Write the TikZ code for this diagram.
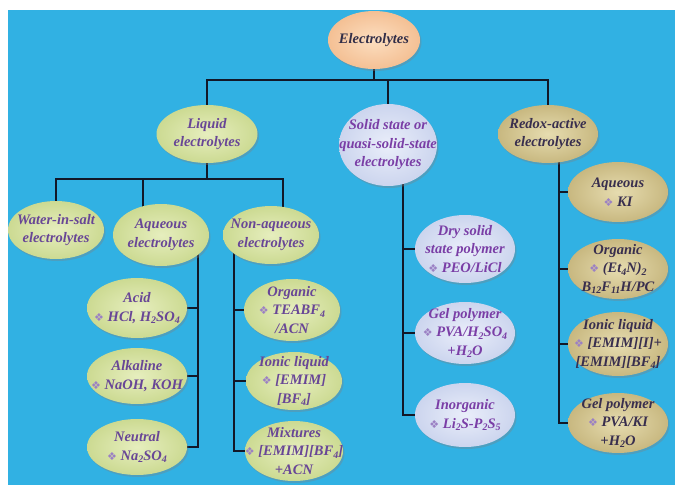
\documentclass[tikz,border=0pt]{standalone}
\usepackage{fontspec}
\setmainfont{Liberation Serif}
\newfontfamily\symfont{DejaVu Sans}
\usepackage{tikz}
\usepackage{xcolor}
\usetikzlibrary{shapes.geometric,shadows}

\pgfdeclarelayer{bg}
\pgfsetlayers{bg,main}

\definecolor{sky}{RGB}{49,177,227}
\definecolor{wirecol}{RGB}{18,24,40}
\definecolor{peachin}{RGB}{252,222,192}
\definecolor{peachout}{RGB}{244,192,148}
\definecolor{liqin}{RGB}{230,238,190}
\definecolor{liqout}{RGB}{204,218,146}
\definecolor{solin}{RGB}{234,238,250}
\definecolor{solout}{RGB}{204,213,238}
\definecolor{redin}{RGB}{230,220,176}
\definecolor{redout}{RGB}{200,184,128}
\definecolor{toptext}{RGB}{50,46,72}
\definecolor{liqtext}{RGB}{104,70,150}
\definecolor{soltext}{RGB}{122,62,166}
\definecolor{redtext}{RGB}{56,46,78}
\definecolor{bullet}{RGB}{155,128,196}

\newcommand{\dn}[1]{\raisebox{-0.35ex}{\fontsize{10}{10}\selectfont #1}}
\newcommand{\dia}{{\color{bullet}\symfont\fontsize{11}{11}\selectfont\char"2756}\ }

\begin{document}
\begin{tikzpicture}[x=1pt, y=-1pt,
  blob/.style={ellipse, inner sep=0pt,
    drop shadow={shadow xshift=1.5pt, shadow yshift=-2pt, opacity=0.35}},
  every label/.style={font=\bfseries\itshape\fontsize{14.5}{18.5}\selectfont,
    align=center, inner sep=0pt},
  topnode/.style={blob, inner color=peachin, outer color=peachout},
  liqnode/.style={blob, inner color=liqin, outer color=liqout},
  solnode/.style={blob, inner color=solin, outer color=solout},
  redoxnode/.style={blob, inner color=redin, outer color=redout},
  ltop/.style={text=toptext},
  lliq/.style={text=liqtext},
  lsol/.style={text=soltext},
  lred/.style={text=redtext},
  wire/.style={draw=wirecol, line width=1.6pt}]
  \useasboundingbox (0,0) rectangle (675,485);

  % top levels
  \node[topnode, minimum width=92pt, minimum height=58pt,
    label={[ltop]center:{Electrolytes}}] (elec) at (374,40) {};
  \node[liqnode, minimum width=101pt, minimum height=58pt,
    label={[lliq]center:{Liquid\\electrolytes}}] (liq) at (207,134) {};
  \node[solnode, minimum width=98pt, minimum height=82pt,
    label={[lsol]center:{Solid state or\\quasi-solid-state\\electrolytes}}] (sol) at (388,145) {};
  \node[redoxnode, minimum width=100pt, minimum height=58pt,
    label={[lred]center:{Redox-active\\electrolytes}}] (redox) at (548,134) {};

  % liquid electrolytes
  \node[liqnode, minimum width=96pt, minimum height=58pt,
    label={[lliq]center:{Water-in-salt\\electrolytes}}] (wis) at (56,230) {};
  \node[liqnode, minimum width=96pt, minimum height=62pt,
    label={[lliq]center:{Aqueous\\electrolytes}}] (aq) at (161,235) {};
  \node[liqnode, minimum width=96pt, minimum height=58pt,
    label={[lliq]center:{Non-aqueous\\electrolytes}}] (naq) at (271,235) {};

  \node[liqnode, minimum width=100pt, minimum height=60pt,
    label={[lliq]center:{Acid\\\dia HCl, H\dn{2}SO\dn{4}}}] (acid) at (137,308) {};
  \node[liqnode, minimum width=100pt, minimum height=56pt,
    label={[lliq]center:{Alkaline\\\dia NaOH, KOH}}] (alk) at (137,376) {};
  \node[liqnode, minimum width=100pt, minimum height=56pt,
    label={[lliq]center:{Neutral\\\dia Na\dn{2}SO\dn{4}}}] (neu) at (137,447) {};

  \node[liqnode, minimum width=96pt, minimum height=62pt,
    label={[lliq]center:{Organic\\\dia TEABF\dn{4}\\/ACN}}] (org) at (292,310) {};
  \node[liqnode, minimum width=96pt, minimum height=58pt,
    label={[lliq]center:{Ionic liquid\\\dia [EMIM]\\{}[BF\dn{4}]}}] (ion) at (294,381) {};
  \node[liqnode, minimum width=98pt, minimum height=60pt,
    label={[lliq]center:{Mixtures\\\dia [EMIM][BF\dn{4}]\\+ACN}}] (mix) at (294,451) {};

  % solid state
  \node[solnode, minimum width=100pt, minimum height=68pt,
    label={[lsol]center:{Dry solid\\state polymer\\\dia PEO/LiCl}}] (dry) at (465,249) {};
  \node[solnode, minimum width=100pt, minimum height=62pt,
    label={[lsol]center:{Gel polymer\\\dia PVA/H\dn{2}SO\dn{4}\\+H\dn{2}O}}] (gel) at (465,333) {};
  \node[solnode, minimum width=100pt, minimum height=64pt,
    label={[lsol]center:{Inorganic\\\dia Li\dn{2}S-P\dn{2}S\dn{5}}}] (inorg) at (465,415) {};

  % redox-active
  \node[redoxnode, minimum width=100pt, minimum height=60pt,
    label={[lred]center:{Aqueous\\\dia KI}}] (raq) at (618,192) {};
  \node[redoxnode, minimum width=100pt, minimum height=60pt,
    label={[lred]center:{Organic\\\dia (Et\dn{4}N)\dn{2}\\B\dn{12}F\dn{11}H/PC}}] (rorg) at (618,269) {};
  \node[redoxnode, minimum width=100pt, minimum height=64pt,
    label={[lred]center:{Ionic liquid\\\dia [EMIM][I]+\\{}[EMIM][BF\dn{4}]}}] (rion) at (618,344) {};
  \node[redoxnode, minimum width=100pt, minimum height=60pt,
    label={[lred]center:{Gel polymer\\\dia PVA/KI\\+H\dn{2}O}}] (rgel) at (618,423) {};

  \begin{pgfonlayer}{bg}
    \fill[sky] (8,10) rectangle (675,485);

    % bus lines
    \coordinate (b1) at (374,80);
    \coordinate (b2) at (207,179);
    \draw[wire] (elec) -- (b1);
    \draw[wire] (liq) |- (b1) -| (redox);
    \draw[wire] (sol) -- (sol |- b1);
    \draw[wire] (liq) -- (b2);
    \draw[wire] (wis) |- (b2) -| ([xshift=12pt]naq.center);
    \draw[wire] ([xshift=-18pt]aq.center) |- (b2);

    % side rails
    \coordinate (v1) at (198,0);
    \coordinate (v2) at (234,0);
    \coordinate (v3) at (403,0);
    \coordinate (v4) at (559,0);
    \draw[wire] (aq.center -| v1) |- (neu);
    \draw[wire] (acid) -- (acid -| v1);
    \draw[wire] (alk) -- (alk -| v1);
    \draw[wire] (naq.center -| v2) |- (mix);
    \draw[wire] (org) -- (org -| v2);
    \draw[wire] (ion) -- (ion -| v2);
    \draw[wire] (sol.center -| v3) |- (inorg);
    \draw[wire] (dry) -- (dry -| v3);
    \draw[wire] (gel) -- (gel -| v3);
    \draw[wire] (redox.center -| v4) |- (rgel);
    \draw[wire] (raq) -- (raq -| v4);
    \draw[wire] (rorg) -- (rorg -| v4);
    \draw[wire] (rion) -- (rion -| v4);
  \end{pgfonlayer}
\end{tikzpicture}
\end{document}
